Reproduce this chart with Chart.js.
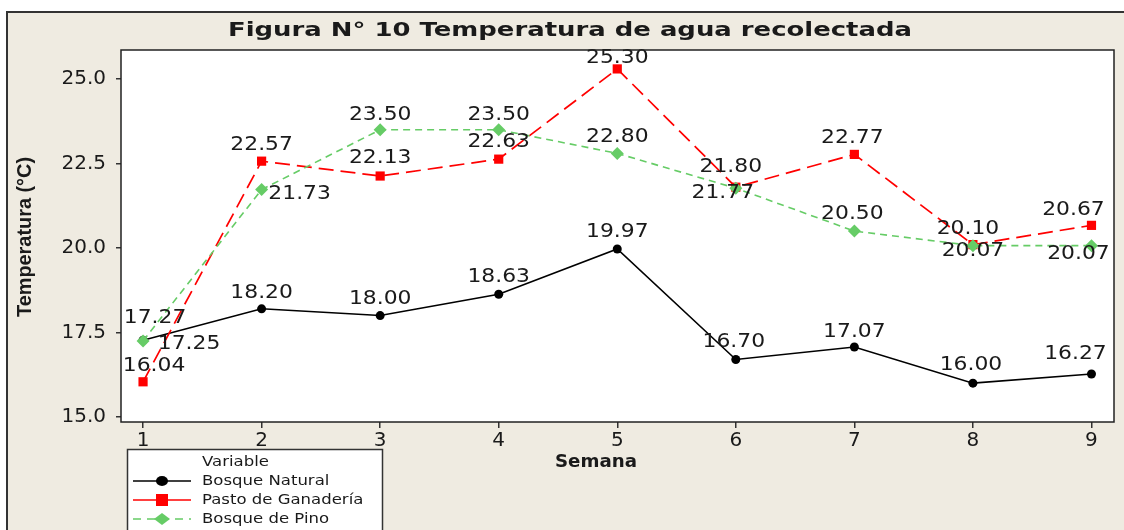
<!DOCTYPE html>
<html lang="es">
<head>
<meta charset="UTF-8">
<title>Temperatura de agua recolectada</title>
<script src="https://cdn.jsdelivr.net/npm/chart.js@4"></script>
<style>
  html, body { margin: 0; padding: 0; background: #fff; }
  canvas { display: block; }
</style>
</head>
<body>
<canvas id="chart" width="1124" height="530"></canvas>
<script>
// Semanas y temperaturas (°C)
const semanas = [1, 2, 3, 4, 5, 6, 7, 8, 9];
const bosqueNatural = [17.27, 18.20, 18.00, 18.63, 19.97, 16.70, 17.07, 16.00, 16.27];
const pastoGanaderia = [16.04, 22.57, 22.13, 22.63, 25.30, 21.80, 22.77, 20.10, 20.67];
const bosquePino = [17.25, 21.73, 23.50, 23.50, 22.80, 21.77, 20.50, 20.07, 20.07];
const yTicks = [15.0, 17.5, 20.0, 22.5, 25.0];

// where each value label sits relative to its point (px)
const labelOffsets = [
  [[12, -22], [0, -16], [0, -17], [0, -17], [0, -17], [-2, -17], [0, -15], [-2, -18], [-16, -20]],
  [[11, -16], [0, -16], [0, -18], [0, -17], [0, -11], [-5, -20], [-2, -16], [-5, -16], [-18, -15]],
  [[46, 3], [38, 5], [0, -15], [0, -15], [0, -16], [-13, 5], [-2, -17], [0, 5], [-13, 8]]
];

const FONT = '"DejaVu Sans", Verdana, sans-serif';
const INK = '#1a1a1a';

function drawStretched(ctx, text, x, y, font, sx, align) {
  ctx.save();
  ctx.font = font;
  ctx.translate(x, y);
  ctx.scale(sx, 1);
  ctx.textAlign = align || 'center';
  ctx.textBaseline = 'middle';
  ctx.fillStyle = INK;
  ctx.fillText(text, 0, 0);
  ctx.restore();
}

function drawFitted(ctx, text, x, y, font, width) {
  ctx.font = font;
  const sx = width / ctx.measureText(text).width;
  drawStretched(ctx, text, x, y, font, sx, 'center');
}

const frame = {
  id: 'frame',
  beforeDraw(chart) {
    const { ctx, width, height, chartArea: a } = chart;
    ctx.save();
    ctx.fillStyle = '#fff';
    ctx.fillRect(0, 0, width, height);
    ctx.fillStyle = '#EFEBE1';
    ctx.fillRect(7, 12, width - 7, height - 12);
    ctx.strokeStyle = '#333';
    ctx.lineWidth = 2;
    ctx.beginPath();
    ctx.moveTo(7, height);
    ctx.lineTo(7, 12);
    ctx.lineTo(width, 12);
    ctx.stroke();
    ctx.fillStyle = '#fff';
    ctx.fillRect(a.left, a.top, a.right - a.left, a.bottom - a.top);
    ctx.restore();
  },
  afterDatasetsDraw(chart) {
    const ctx = chart.ctx;
    chart.data.datasets.forEach((ds, i) => {
      const meta = chart.getDatasetMeta(i);
      meta.data.forEach((pt, j) => {
        const off = labelOffsets[i][j];
        drawStretched(ctx, ds.data[j].y.toFixed(2), pt.x + off[0], pt.y + off[1],
          '19px ' + FONT, 1.15, 'center');
      });
    });
  },
  afterDraw(chart) {
    const { ctx, chartArea: a } = chart;
    ctx.save();
    ctx.strokeStyle = '#222';
    ctx.lineWidth = 1.5;
    ctx.strokeRect(a.left, a.top, a.right - a.left, a.bottom - a.top);
    ctx.restore();

    drawFitted(ctx, 'Figura N° 10 Temperatura de agua recolectada', 570, 31,
      'bold 20px ' + FONT, 684);
    drawFitted(ctx, 'Semana', 596, 463, 'bold 17px ' + FONT, 82);

    ctx.save();
    ctx.translate(25, 237);
    ctx.rotate(-Math.PI / 2);
    drawFitted(ctx, 'Temperatura (°C)', 0, 0,
      'bold 20px "Liberation Sans Narrow", "Arial Narrow", "Liberation Sans", Arial, sans-serif', 160);
    ctx.restore();

    // legend box
    ctx.save();
    ctx.fillStyle = '#fff';
    ctx.fillRect(127, 449, 255, 100);
    ctx.strokeStyle = '#333';
    ctx.lineWidth = 1.5;
    ctx.strokeRect(127.5, 449.5, 255, 100);
    ctx.restore();
    drawStretched(ctx, 'Variable', 202, 462, '14px ' + FONT, 1.18, 'left');

    const rows = [481, 500, 519];
    chart.data.datasets.forEach((ds, i) => {
      const y = rows[i];
      ctx.save();
      ctx.strokeStyle = ds.borderColor;
      ctx.fillStyle = ds.borderColor;
      ctx.lineWidth = 1.5;
      ctx.setLineDash(i === 2 ? [8, 6] : []);
      ctx.beginPath();
      ctx.moveTo(133, y);
      ctx.lineTo(191, y);
      ctx.stroke();
      ctx.setLineDash([]);
      ctx.beginPath();
      if (ds.pointStyle === 'circle') {
        ctx.ellipse(162, y, 6, 5, 0, 0, Math.PI * 2);
      } else if (ds.pointStyle === 'rect') {
        ctx.rect(156, y - 6, 12, 12);
      } else {
        ctx.moveTo(162, y - 6);
        ctx.lineTo(170, y);
        ctx.lineTo(162, y + 6);
        ctx.lineTo(154, y);
        ctx.closePath();
      }
      ctx.fill();
      ctx.restore();
      drawStretched(ctx, ds.label, 202, y, '14px ' + FONT, 1.18, 'left');
    });
  }
};

const toPoints = vals => vals.map((v, i) => ({ x: semanas[i], y: v }));

new Chart(document.getElementById('chart'), {
  type: 'line',
  data: {
    datasets: [
      {
        label: 'Bosque Natural',
        data: toPoints(bosqueNatural),
        borderColor: '#000000',
        backgroundColor: '#000000',
        borderWidth: 1.6,
        pointStyle: 'circle',
        pointRadius: 4.5,
        pointBorderWidth: 0,
        order: 2
      },
      {
        label: 'Pasto de Ganadería',
        data: toPoints(pastoGanaderia),
        borderColor: '#FF0000',
        backgroundColor: '#FF0000',
        borderWidth: 1.7,
        borderDash: [15, 7],
        pointStyle: 'rect',
        pointRadius: 6.5,
        pointBorderWidth: 0,
        order: 1
      },
      {
        label: 'Bosque de Pino',
        data: toPoints(bosquePino),
        borderColor: '#66CC66',
        backgroundColor: '#66CC66',
        borderWidth: 1.6,
        borderDash: [7, 5],
        pointStyle: 'rectRot',
        pointRadius: 6.5,
        pointBorderWidth: 0,
        order: 0
      }
    ]
  },
  options: {
    responsive: false,
    animation: false,
    layout: { padding: { left: 0, top: 50, right: 10, bottom: 78 } },
    plugins: {
      legend: { display: false },
      title: { display: false },
      tooltip: { enabled: false }
    },
    scales: {
      x: {
        type: 'linear',
        min: 0.814,
        max: 9.19,
        afterBuildTicks: s => { s.ticks = semanas.map(v => ({ value: v })); },
        afterFit: s => { s.height = 30; },
        ticks: { color: INK, font: { family: FONT, size: 20 }, padding: 1, callback: v => String(v) },
        grid: { drawOnChartArea: false, tickLength: 6, color: '#333', lineWidth: 1.5 },
        border: { display: false }
      },
      y: {
        min: 14.85,
        max: 25.86,
        afterBuildTicks: s => { s.ticks = yTicks.map(v => ({ value: v })); },
        afterFit: s => { s.width = 121; },
        ticks: { color: INK, font: { family: FONT, size: 20 }, padding: 10, callback: v => v.toFixed(1) },
        grid: { drawOnChartArea: false, tickLength: 5, color: '#333', lineWidth: 1.5 },
        border: { display: false }
      }
    }
  },
  plugins: [frame]
});
</script>
</body>
</html>
